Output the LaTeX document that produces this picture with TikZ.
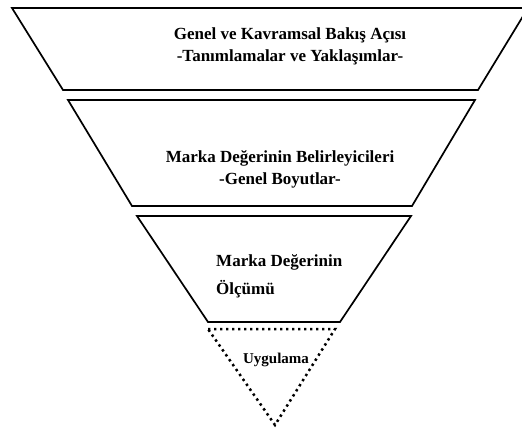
\documentclass[tikz,border=0pt]{standalone}
\usepackage{fontspec}
\setmainfont{Liberation Serif}
\begin{document}
\begin{tikzpicture}[x=1pt,y=-1pt,
  tier/.style={draw=black, line width=1.7pt, line join=miter},
  apex/.style={draw=black, line width=2.5pt, dash pattern=on 2.4pt off 3.6pt},
  lbl/.style={font=\bfseries\fontsize{17}{22}\selectfont, align=center, inner sep=0pt, text=black}]
\useasboundingbox (0,0) rectangle (522,428);
% tier 1
\draw[tier] (12,8) -- (528,8) -- (478,90) -- (63,90) -- cycle;
\node[lbl] (t1) at (290,46) {Genel ve Kavramsal Bakış Açısı\\-Tanımlamalar ve Yaklaşımlar-};
% tier 2
\draw[tier] (68,100) -- (475,100) -- (412,206) -- (132,206) -- cycle;
\node[lbl] (t2) at (280,169) {Marka Değerinin Belirleyicileri\\-Genel Boyutlar-};
% tier 3
\draw[tier] (137,216) -- (411,216) -- (340,322) -- (208,322) -- cycle;
\node[lbl, align=left, anchor=west, font=\bfseries\fontsize{17}{28}\selectfont] (t3) at (216,276) {Marka Değerinin\\Ölçümü};
% apex
\draw[apex] (208,329) -- (335,329) -- (275,425) -- cycle;
\node[lbl, font=\bfseries\fontsize{15}{18}\selectfont] (t4) at (276,360) {Uygulama};
\end{tikzpicture}
\end{document}
